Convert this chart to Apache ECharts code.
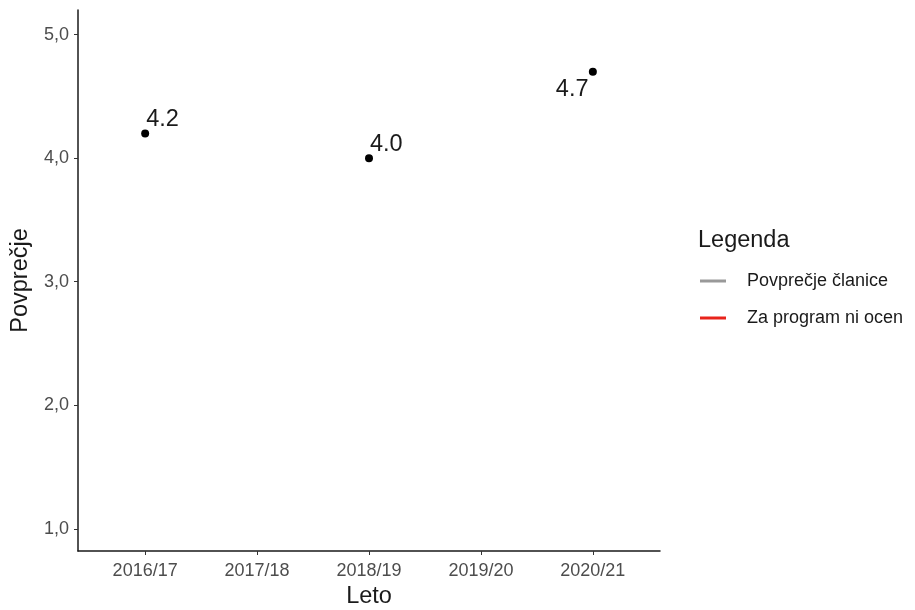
<!DOCTYPE html>
<html><head><meta charset="utf-8">
<script src="https://cdn.jsdelivr.net/npm/echarts@6/dist/echarts.min.js"></script>
<style>html,body{margin:0;padding:0;background:#fff}#c{width:915px;height:610px}</style>
</head><body><div id="c"></div>
<script>
const categories = ['2016/17','2017/18','2018/19','2019/20','2020/21'];
const pointCats = ['2016/17','2018/19','2020/21'];
const pointValues = [4.2, 4.0, 4.7];
const labelPos = ['ur','ur','ll'];
const yTicks = [1,2,3,4,5];
const legendNames = ['Povprečje članice','Za program ni ocen'];
const legendColors = ['#999999','#e8231b'];

const chart = echarts.init(document.getElementById('c'));
const font = 'Liberation Sans, Arial, sans-serif';
const pts = pointCats.map((c,i)=>({
  value:[categories.indexOf(c), pointValues[i]],
  label:{
    show:true,
    formatter: pointValues[i].toFixed(1),
    position: labelPos[i]==='ur' ? [5,-22] : [-33,10],
    fontSize:23.5, color:'#1a1a1a', fontFamily:font
  }
}));
chart.setOption({
  animation:false,
  textStyle:{fontFamily:font},
  title:{text:'Legenda', left:693, top:224, textStyle:{fontSize:23.5, fontWeight:'normal', color:'#1a1a1a', fontFamily:font}},
  legend:{
    orient:'vertical', left:695, top:267, itemGap:19,
    itemWidth:26, itemHeight:3, icon:'rect',
    data: legendNames,
    textStyle:{fontSize:18, color:'#1a1a1a', fontFamily:font, padding:[0,0,0,16]}
  },
  grid:{left:78, right:255, top:10, bottom:59, containLabel:false, outerBoundsMode:'none'},
  xAxis:{
    type:'value', min:-0.6, max:4.6,
    splitLine:{show:false},
    axisLine:{show:true, onZero:false, lineStyle:{color:'#1a1a1a', width:1.5}},
    axisTick:{show:true, customValues:[0,1,2,3,4], length:4, lineStyle:{color:'#333'}},
    axisLabel:{customValues:[0,1,2,3,4], formatter:v=>categories[Math.round(v)], color:'#4d4d4d', fontSize:18, margin:11, fontFamily:font},
    name:'Leto', nameLocation:'middle', nameGap:34,
    nameTextStyle:{fontSize:23.5, color:'#1a1a1a', fontFamily:font}
  },
  yAxis:{
    type:'value', min:0.82, max:5.2,
    splitLine:{show:false},
    axisLine:{show:true, onZero:false, lineStyle:{color:'#1a1a1a', width:1.5}},
    axisTick:{show:true, customValues:yTicks, length:4, lineStyle:{color:'#333'}},
    axisLabel:{customValues:yTicks, formatter:v=>v.toFixed(1).replace('.',','), color:'#4d4d4d', fontSize:18, margin:9, fontFamily:font},
    name:'Povprečje', nameLocation:'middle', nameGap:45, nameRotate:90,
    nameTextStyle:{fontSize:23.5, color:'#1a1a1a', fontFamily:font}
  },
  series:[
    {type:'scatter', data:pts, symbolSize:8, itemStyle:{color:'#000', opacity:1}},
    {type:'line', name:legendNames[0], data:[], color:legendColors[0], lineStyle:{color:legendColors[0]}, itemStyle:{color:legendColors[0]}},
    {type:'line', name:legendNames[1], data:[], color:legendColors[1], lineStyle:{color:legendColors[1]}, itemStyle:{color:legendColors[1]}}
  ]
});
</script></body></html>
